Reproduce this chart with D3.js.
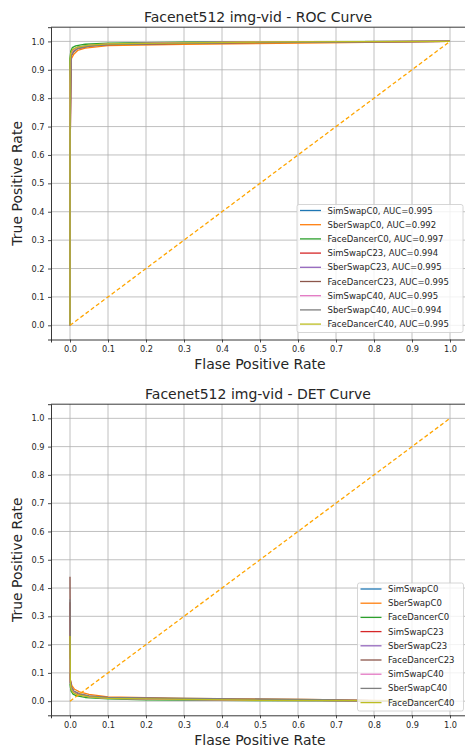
<!DOCTYPE html>
<html>
<head>
<meta charset="utf-8">
<script src="https://cdn.jsdelivr.net/npm/d3@7"></script>
<style>
  body { margin: 0; background: #fff; }
  svg text { font-family: "DejaVu Sans", sans-serif; fill: #262626; }
</style>
</head>
<body>
<div id="chart"></div>
<script>
// series names and colours (matplotlib tab10)
const names = ["SimSwapC0", "SberSwapC0", "FaceDancerC0", "SimSwapC23", "SberSwapC23",
  "FaceDancerC23", "SimSwapC40", "SberSwapC40", "FaceDancerC40"];
const colors = ["#1f77b4", "#ff7f0e", "#2ca02c", "#d62728", "#9467bd",
  "#8c564b", "#e377c2", "#7f7f7f", "#bcbd22"];
const aucs = ["0.995", "0.992", "0.997", "0.994", "0.995", "0.995", "0.995", "0.994", "0.995"];

const ticks = [0, 0.1, 0.2, 0.3, 0.4, 0.5, 0.6, 0.7, 0.8, 0.9, 1.0];

// ROC curves: false positive rate / true positive rate
const rocFpr = [
  [0, 0, 0.003, 0.008, 0.02, 0.05, 0.1, 0.2, 0.5, 1],
  [0, 0, 0.004, 0.01, 0.02, 0.04, 0.1, 0.3, 0.67, 1],
  [0, 0, 0.002, 0.006, 0.015, 0.04, 0.1, 0.3, 0.6, 1],
  [0, 0, 0.003, 0.01, 0.02, 0.05, 0.1, 0.3, 0.5, 1],
  [0, 0, 0.003, 0.008, 0.02, 0.05, 0.1, 0.25, 0.5, 1],
  [0, 0, 0.003, 0.009, 0.02, 0.05, 0.1, 0.3, 0.5, 1],
  [0, 0, 0.003, 0.008, 0.02, 0.05, 0.1, 0.25, 0.5, 1],
  [0, 0, 0.003, 0.01, 0.02, 0.05, 0.1, 0.3, 0.6, 1],
  [0, 0, 0.002, 0.007, 0.02, 0.05, 0.1, 0.3, 0.5, 1]
];
const rocTpr = [
  [0, 0.93, 0.955, 0.97, 0.98, 0.986, 0.991, 0.995, 0.998, 1],
  [0, 0.9, 0.94, 0.955, 0.968, 0.976, 0.985, 0.99, 0.995, 1],
  [0, 0.94, 0.965, 0.978, 0.984, 0.99, 0.994, 0.997, 0.999, 1],
  [0, 0.56, 0.95, 0.965, 0.975, 0.983, 0.989, 0.993, 0.997, 1],
  [0, 0.9, 0.955, 0.968, 0.978, 0.985, 0.99, 0.995, 0.998, 1],
  [0, 0.56, 0.95, 0.966, 0.977, 0.984, 0.99, 0.994, 0.998, 1],
  [0, 0.85, 0.955, 0.968, 0.978, 0.986, 0.991, 0.995, 0.998, 1],
  [0, 0.64, 0.95, 0.963, 0.975, 0.983, 0.989, 0.993, 0.997, 1],
  [0, 0.93, 0.958, 0.972, 0.98, 0.987, 0.991, 0.995, 0.998, 1]
];

// DET curves: false positive rate / miss rate
const detFpr = [
  [0, 0.001, 0.004, 0.01, 0.02, 0.05, 0.1, 0.2, 0.5, 0.8, 1],
  [0, 0.001, 0.005, 0.012, 0.025, 0.05, 0.1, 0.3, 0.62, 0.8, 1],
  [0, 0.001, 0.003, 0.008, 0.015, 0.04, 0.1, 0.2, 0.5, 0.8, 1],
  [0, 0.001, 0.004, 0.01, 0.02, 0.05, 0.1, 0.3, 0.5, 0.8, 1],
  [0, 0.001, 0.004, 0.01, 0.02, 0.05, 0.1, 0.25, 0.5, 0.8, 1],
  [0, 0.001, 0.004, 0.01, 0.02, 0.05, 0.1, 0.3, 0.5, 0.8, 1],
  [0, 0.001, 0.004, 0.01, 0.02, 0.05, 0.1, 0.25, 0.5, 0.8, 1],
  [0, 0.001, 0.004, 0.01, 0.025, 0.05, 0.1, 0.38, 0.67, 0.8, 1],
  [0, 0.001, 0.003, 0.008, 0.02, 0.05, 0.1, 0.3, 0.5, 0.8, 1]
];
const detFnr = [
  [0.07, 0.06, 0.045, 0.032, 0.024, 0.017, 0.012, 0.008, 0.004, 0.002, 0],
  [0.1, 0.075, 0.055, 0.042, 0.033, 0.024, 0.015, 0.01, 0.006, 0.003, 0],
  [0.06, 0.05, 0.035, 0.025, 0.02, 0.013, 0.008, 0.005, 0.002, 0.001, 0],
  [0.35, 0.07, 0.048, 0.035, 0.026, 0.018, 0.012, 0.008, 0.004, 0.002, 0],
  [0.1, 0.065, 0.045, 0.032, 0.024, 0.016, 0.011, 0.007, 0.003, 0.002, 0],
  [0.44, 0.07, 0.047, 0.034, 0.025, 0.017, 0.011, 0.007, 0.004, 0.002, 0],
  [0.15, 0.065, 0.045, 0.032, 0.023, 0.015, 0.01, 0.006, 0.003, 0.002, 0],
  [0.36, 0.075, 0.05, 0.036, 0.027, 0.019, 0.013, 0.009, 0.005, 0.002, 0],
  [0.23, 0.06, 0.042, 0.03, 0.022, 0.015, 0.01, 0.006, 0.003, 0.002, 0]
];

const diagonal = [0, 1];

const W = 465, H = 749;
const svg = d3.select("#chart").append("svg")
  .attr("width", W).attr("height", H);

function panel(opts) {
  const x = d3.scaleLinear().domain([-0.05, 1.05]).range([51, 469]);
  const y = d3.scaleLinear().domain([-0.05, 1.05]).range([opts.bottom, opts.top]);
  const g = svg.append("g");

  // grid
  g.append("g").selectAll("line").data(ticks).join("line")
    .attr("x1", d => x(d)).attr("x2", d => x(d))
    .attr("y1", y.range()[1]).attr("y2", y.range()[0])
    .attr("stroke", "#b0b0b0").attr("stroke-width", 0.8);
  g.append("g").selectAll("line").data(ticks).join("line")
    .attr("y1", d => y(d)).attr("y2", d => y(d))
    .attr("x1", x.range()[0]).attr("x2", x.range()[1])
    .attr("stroke", "#b0b0b0").attr("stroke-width", 0.8);

  // axes
  const xAxis = g.append("g")
    .attr("transform", `translate(0,${opts.bottom})`)
    .call(d3.axisBottom(x).tickValues(ticks).tickFormat(d3.format(".1f")).tickSize(3).tickPadding(3.5));
  const yAxis = g.append("g")
    .attr("transform", "translate(51,0)")
    .call(d3.axisLeft(y).tickValues(ticks).tickFormat(d3.format(".1f")).tickSize(3).tickPadding(3.5));
  [xAxis, yAxis].forEach(a => {
    a.select(".domain").attr("stroke", "#222").attr("stroke-width", 0.9);
    a.selectAll(".tick line").attr("stroke", "#222").attr("stroke-width", 0.8);
    a.selectAll(".tick text").attr("font-size", 8.2).attr("font-family", "DejaVu Sans").attr("fill", "#262626");
  });
  g.append("line")
    .attr("x1", 51).attr("x2", 469).attr("y1", opts.top).attr("y2", opts.top)
    .attr("stroke", "#222").attr("stroke-width", 0.9);

  // curves
  const line = d3.line().x(d => x(d[0])).y(d => y(d[1]));
  const clip = "clip" + opts.id;
  g.append("clipPath").attr("id", clip).append("rect")
    .attr("x", 51).attr("y", opts.top).attr("width", 418).attr("height", opts.bottom - opts.top);
  const curves = g.append("g").attr("clip-path", `url(#${clip})`);
  names.forEach((n, i) => {
    const pts = opts.xs[i].map((v, j) => [v, opts.ys[i][j]]);
    curves.append("path").datum(pts)
      .attr("d", line).attr("fill", "none")
      .attr("stroke", colors[i]).attr("stroke-width", 1.3)
      .attr("stroke-linejoin", "round");
  });
  curves.append("path").datum(diagonal.map(d => [d, d]))
    .attr("d", line).attr("fill", "none")
    .attr("stroke", "orange").attr("stroke-width", 1.3)
    .attr("stroke-dasharray", "4,2.5");

  // titles
  g.append("text").attr("x", 258).attr("y", opts.top - 5.5)
    .attr("text-anchor", "middle").attr("font-size", 14).text(opts.title);
  g.append("text").attr("x", 260).attr("y", opts.bottom + 29.5)
    .attr("text-anchor", "middle").attr("font-size", 14).text("Flase Positive Rate");
  g.append("text")
    .attr("transform", `translate(22,${(opts.top + opts.bottom) / 2}) rotate(-90)`)
    .attr("text-anchor", "middle").attr("font-size", 14).text("True Positive Rate");

  // legend
  const lg = g.append("g").attr("transform", `translate(${opts.legX},${opts.legY})`);
  lg.append("rect").attr("width", opts.legW).attr("height", 128).attr("rx", 2)
    .attr("fill", "#fff").attr("fill-opacity", 0.8)
    .attr("stroke", "#cccccc").attr("stroke-width", 0.8);
  names.forEach((n, i) => {
    const row = lg.append("g").attr("transform", `translate(0,${6 + i * 14.2})`);
    row.append("line").attr("x1", 3).attr("x2", 24).attr("y1", 0).attr("y2", 0)
      .attr("stroke", colors[i]).attr("stroke-width", 1.3);
    row.append("text").attr("x", 30.5).attr("y", 3).attr("font-size", 8.5)
      .text(opts.labels[i]);
  });
}

panel({
  id: "roc", top: 27.2, bottom: 339.5, title: "Facenet512 img-vid - ROC Curve",
  xs: rocFpr, ys: rocTpr,
  labels: names.map((n, i) => `${n}, AUC=${aucs[i]}`),
  legX: 297, legY: 204.5, legW: 166
});
panel({
  id: "det", top: 404.2, bottom: 715.3, title: "Facenet512 img-vid - DET Curve",
  xs: detFpr, ys: detFnr,
  labels: names,
  legX: 357.5, legY: 583, legW: 106
});
</script>
</body>
</html>
